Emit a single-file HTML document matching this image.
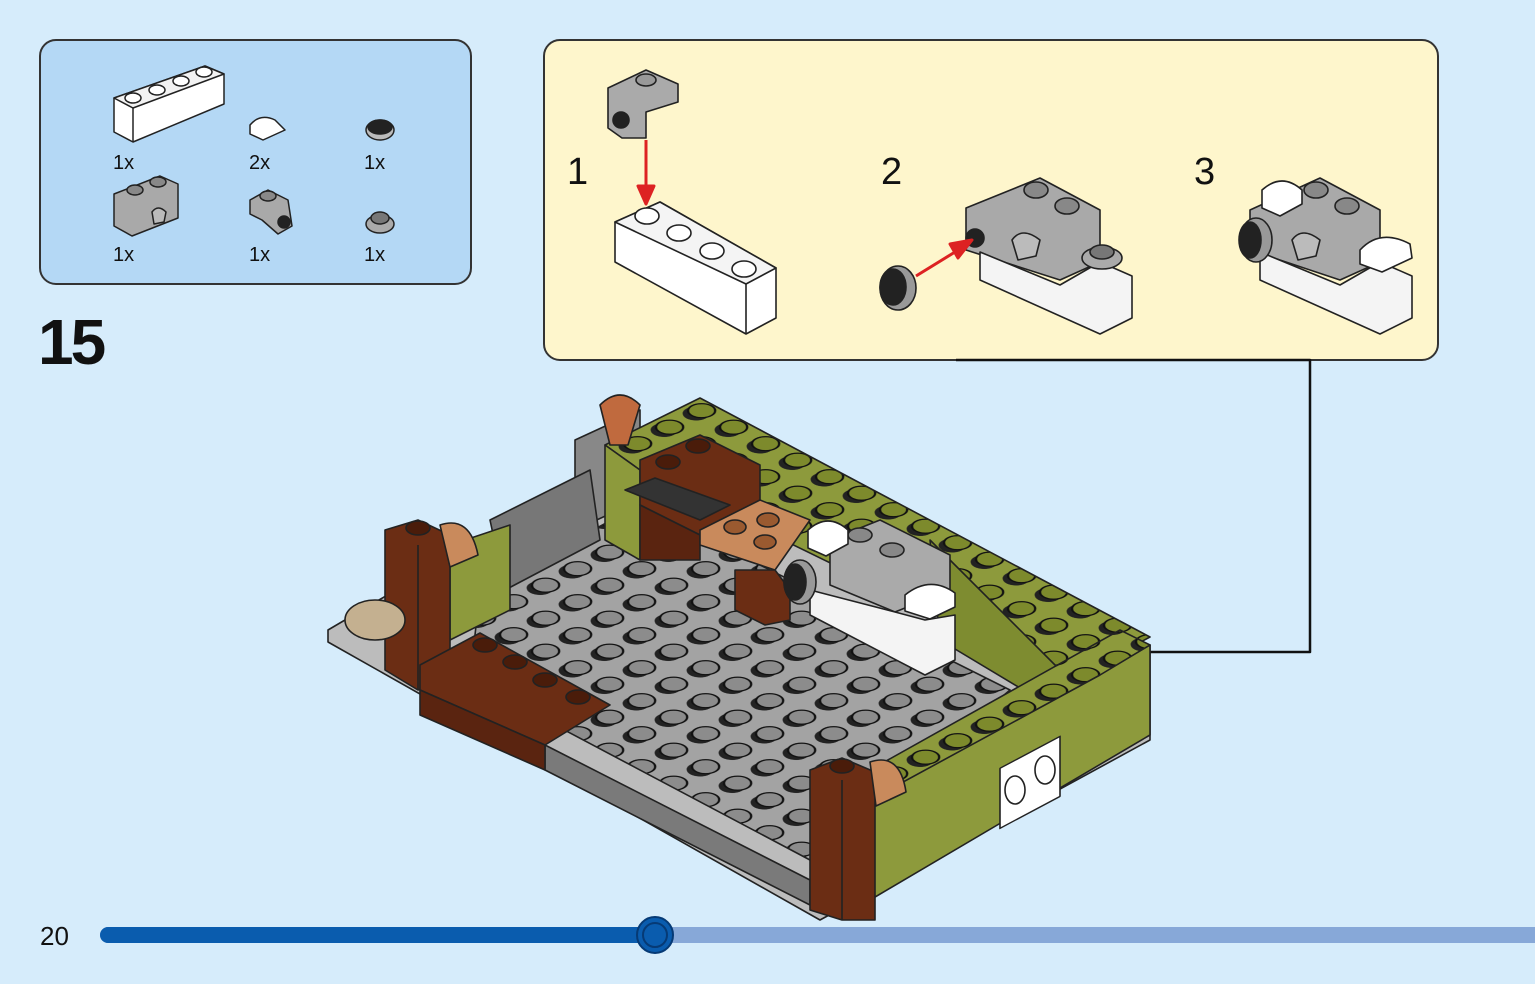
<!DOCTYPE html>
<html><head><meta charset="utf-8"><style>
html,body{margin:0;padding:0;background:#d6ecfb;}
body{width:1535px;height:984px;overflow:hidden;position:relative;font-family:"Liberation Sans",sans-serif;}
svg{position:absolute;left:0;top:0}
</style></head><body>
<svg width="1535" height="984" viewBox="0 0 1535 984" xmlns="http://www.w3.org/2000/svg" stroke-linejoin="round">
<defs>
<pattern id="studs" width="1" height="1" patternUnits="userSpaceOnUse" patternTransform="matrix(32 16.5 -32 16.5 640 520)">
<rect width="1" height="1" fill="#a3a3a3"/>
<ellipse cx="0.5" cy="0.62" rx="0.3" ry="0.3" fill="#222"/>
<ellipse cx="0.5" cy="0.45" rx="0.3" ry="0.3" fill="#8c8c8c" stroke="#111" stroke-width="0.05"/>
</pattern>
<pattern id="gstuds" width="1" height="1" patternUnits="userSpaceOnUse" patternTransform="matrix(32 16.5 -32 16.5 700 395)">
<rect width="1" height="1" fill="#8d9a3c"/>
<ellipse cx="0.5" cy="0.62" rx="0.3" ry="0.3" fill="#222"/>
<ellipse cx="0.5" cy="0.45" rx="0.3" ry="0.3" fill="#7d8a2c" stroke="#111" stroke-width="0.05"/>
</pattern>
</defs>

<rect x="40" y="40" width="431" height="244" rx="16" fill="#b4d8f5" stroke="#333" stroke-width="2"/>
<g stroke="#222" stroke-width="1.5">
<polygon points="114,98 205,66 224,74 224,104 133,142 114,132" fill="#fff"/>
<polygon points="114,98 205,66 224,74 133,108" fill="#f2f2f2"/>
<line x1="133" y1="108" x2="133" y2="142"/>
<g fill="#fff"><ellipse cx="133" cy="98" rx="8" ry="5"/><ellipse cx="157" cy="90" rx="8" ry="5"/><ellipse cx="181" cy="81" rx="8" ry="5"/><ellipse cx="204" cy="72" rx="8" ry="5"/></g>
<path d="M250,125 q10,-12 25,-5 l10,10 -22,10 -13,-6z" fill="#fff"/>
<ellipse cx="380" cy="130" rx="14" ry="10" fill="#bbb"/><ellipse cx="380" cy="127" rx="12" ry="7" fill="#222"/>
<polygon points="114,194 160,176 178,184 178,218 132,236 114,226" fill="#a9a9a9"/>
<ellipse cx="135" cy="190" rx="8" ry="5" fill="#888"/><ellipse cx="158" cy="182" rx="8" ry="5" fill="#888"/>
<path d="M152,212 q6,-8 14,0 l-2,10 -10,2z" fill="#bbb"/>
<polygon points="250,200 268,190 288,200 292,226 278,234 262,220 250,214" fill="#a9a9a9"/>
<ellipse cx="268" cy="196" rx="8" ry="5" fill="#888"/><circle cx="284" cy="222" r="6" fill="#222"/>
<ellipse cx="380" cy="224" rx="14" ry="9" fill="#aaa"/><ellipse cx="380" cy="218" rx="9" ry="6" fill="#777"/>
</g>
<g font-size="20" fill="#111">
<text x="113" y="169">1x</text><text x="249" y="169">2x</text><text x="364" y="169">1x</text>
<text x="113" y="261">1x</text><text x="249" y="261">1x</text><text x="364" y="261">1x</text>
</g>
<text x="38" y="364" font-size="64" font-weight="bold" fill="#111" letter-spacing="-3">15</text>

<rect x="544" y="40" width="894" height="320" rx="16" fill="#fef6cc" stroke="#333" stroke-width="2"/>
<g font-size="38" fill="#111"><text x="567" y="184">1</text><text x="881" y="184">2</text><text x="1194" y="184">3</text></g>
<g stroke="#222" stroke-width="1.6">
<polygon points="608,88 646,70 678,84 678,102 646,112 646,138 622,138 608,128" fill="#aaa"/>
<ellipse cx="646" cy="80" rx="10" ry="6" fill="#999"/><circle cx="621" cy="120" r="8" fill="#222"/>
<polygon points="615,222 660,202 776,268 776,318 746,334 615,262" fill="#fff"/>
<polygon points="615,222 660,202 776,268 746,284" fill="#f4f4f4"/><line x1="746" y1="284" x2="746" y2="334"/>
<g fill="#fff"><ellipse cx="647" cy="216" rx="12" ry="8"/><ellipse cx="679" cy="233" rx="12" ry="8"/><ellipse cx="712" cy="251" rx="12" ry="8"/><ellipse cx="744" cy="269" rx="12" ry="8"/></g>
<polygon points="966,208 1040,178 1100,210 1100,262 1060,280 966,250" fill="#a9a9a9"/>
<polygon points="980,252 1060,285 1100,262 1132,276 1132,318 1100,334 980,280" fill="#f4f4f4"/>
<ellipse cx="1036" cy="190" rx="12" ry="8" fill="#888"/><ellipse cx="1067" cy="206" rx="12" ry="8" fill="#888"/>
<path d="M1012,240 q10,-14 28,0 l-4,16 -18,4z" fill="#bbb"/>
<ellipse cx="1102" cy="258" rx="20" ry="11" fill="#aaa"/><ellipse cx="1102" cy="252" rx="12" ry="7" fill="#777"/>
<circle cx="975" cy="238" r="9" fill="#222"/>
<ellipse cx="898" cy="288" rx="18" ry="22" fill="#999"/><ellipse cx="893" cy="287" rx="13" ry="18" fill="#222"/>
<polygon points="1250,210 1320,178 1380,210 1380,262 1340,280 1250,250" fill="#a9a9a9"/>
<polygon points="1260,252 1340,285 1380,262 1412,276 1412,318 1380,334 1260,280" fill="#f4f4f4"/>
<ellipse cx="1316" cy="190" rx="12" ry="8" fill="#888"/><ellipse cx="1347" cy="206" rx="12" ry="8" fill="#888"/>
<path d="M1292,240 q10,-14 28,0 l-4,16 -18,4z" fill="#bbb"/>
<path d="M1360,250 q20,-22 50,-6 l2,14 -30,14 -22,-8z" fill="#fff"/>
<path d="M1262,190 q20,-18 40,0 l0,14 -22,12 -18,-8z" fill="#fff"/>
<ellipse cx="1256" cy="240" rx="16" ry="22" fill="#999"/><ellipse cx="1250" cy="240" rx="11" ry="18" fill="#222"/>
</g>
<g stroke="#d22" stroke-width="3" fill="#d22">
<line x1="646" y1="140" x2="646" y2="190"/><polygon points="638,186 654,186 646,204"/>
<line x1="916" y1="276" x2="955" y2="252"/><polygon points="950,244 958,258 972,240"/>
</g>

<polyline points="956,360 1310,360 1310,652 975,652" fill="none" stroke="#111" stroke-width="2.5"/>
<polygon points="958,652 995,640 985,652 995,664" fill="#111"/>

<g stroke="#222" stroke-width="1.6">
<polygon points="328,630 600,470 1150,645 1150,740 820,920 328,642" fill="#bcbcbc"/>
<polygon points="480,590 640,505 1010,690 810,860 470,680" fill="url(#studs)"/>
<polygon points="545,745 810,880 810,905 545,770" fill="#7a7a7a"/>
<polygon points="575,440 640,410 640,500 575,530" fill="#888"/>
<polygon points="490,520 590,470 600,540 505,590" fill="#777"/>
<polygon points="605,445 700,398 1150,637 1070,680 640,470" fill="url(#gstuds)"/>
<polygon points="605,445 640,470 640,560 605,540" fill="#8d9a3c"/>
<polygon points="930,540 1070,680 1040,700 940,640" fill="#7e8c30"/>
<polygon points="870,800 1150,645 1150,735 870,900" fill="#8d9a3c"/>
<polygon points="870,800 1100,675 1150,645 1120,630 870,770" fill="url(#gstuds)"/>
<rect x="1000" y="760" width="60" height="60" fill="#fff" transform="skewY(-28) translate(0,540)"/>
<ellipse cx="1015" cy="790" rx="10" ry="14" fill="#fff"/><ellipse cx="1045" cy="770" rx="10" ry="14" fill="#fff"/>
<polygon points="450,545 510,525 510,610 450,640" fill="#8d9a3c"/>
<polygon points="385,530 418,520 450,535 450,680 418,690 385,670" fill="#6b2d14"/>
<line x1="418" y1="545" x2="418" y2="690"/>
<ellipse cx="418" cy="528" rx="12" ry="7" fill="#4a1c0a"/>
<path d="M440,525 q30,-10 38,30 l-28,12z" fill="#c98a5c"/>
<ellipse cx="375" cy="620" rx="30" ry="20" fill="#c4b090"/>
<polygon points="420,665 480,633 610,705 545,745 420,690" fill="#6b2d14"/>
<polygon points="420,690 545,745 545,770 420,715" fill="#5a2410"/>
<g fill="#4a1c0a"><ellipse cx="485" cy="645" rx="12" ry="7"/><ellipse cx="515" cy="662" rx="12" ry="7"/><ellipse cx="545" cy="680" rx="12" ry="7"/><ellipse cx="578" cy="697" rx="12" ry="7"/></g>
<polygon points="810,770 842,758 875,772 875,920 842,920 810,910" fill="#6b2d14"/>
<line x1="842" y1="780" x2="842" y2="920"/>
<ellipse cx="842" cy="766" rx="12" ry="7" fill="#4a1c0a"/>
<path d="M870,762 q30,-10 36,30 l-30,14z" fill="#c98a5c"/>
<polygon points="640,460 700,435 760,465 760,500 700,535 640,505" fill="#6b2d14"/>
<polygon points="640,505 700,535 700,560 640,560" fill="#5a2410"/>
<ellipse cx="668" cy="462" rx="12" ry="7" fill="#4a1c0a"/><ellipse cx="698" cy="446" rx="12" ry="7" fill="#4a1c0a"/>
<polygon points="625,490 700,520 730,505 655,478" fill="#333"/>
<polygon points="700,530 760,500 810,520 775,570 700,545" fill="#c98a5c"/>
<ellipse cx="735" cy="527" rx="11" ry="7" fill="#9a5a30"/><ellipse cx="768" cy="520" rx="11" ry="7" fill="#9a5a30"/><ellipse cx="765" cy="542" rx="11" ry="7" fill="#9a5a30"/>
<polygon points="735,570 775,570 790,590 790,620 765,625 735,610" fill="#6b2d14"/>
<path d="M600,405 q20,-20 40,0 l-12,40 -18,0z" fill="#c06a3e"/>
<polygon points="830,540 880,520 950,555 950,590 895,612 830,585" fill="#aaa"/>
<ellipse cx="860" cy="535" rx="12" ry="7" fill="#888"/><ellipse cx="892" cy="550" rx="12" ry="7" fill="#888"/>
<polygon points="810,590 895,612 925,620 955,615 955,660 925,675 810,615" fill="#f4f4f4"/>
<path d="M905,595 q25,-20 50,-2 l0,14 -25,12 -25,-8z" fill="#fff"/>
<path d="M808,530 q20,-18 40,0 l0,14 -22,12 -18,-8z" fill="#fff"/>
<ellipse cx="800" cy="582" rx="16" ry="22" fill="#999"/><ellipse cx="795" cy="582" rx="11" ry="18" fill="#222"/>
</g>

<rect x="100" y="927" width="1460" height="16" rx="8" fill="#87a8d8"/>
<rect x="100" y="927" width="560" height="16" rx="8" fill="#0a5cae"/>
<circle cx="655" cy="935" r="18" fill="#0a5cae" stroke="#063a75" stroke-width="2"/>
<circle cx="655" cy="935" r="12" fill="none" stroke="#063a75" stroke-width="2"/>
<text x="40" y="945" font-size="26" fill="#111">20</text>
</svg>
</body></html>
